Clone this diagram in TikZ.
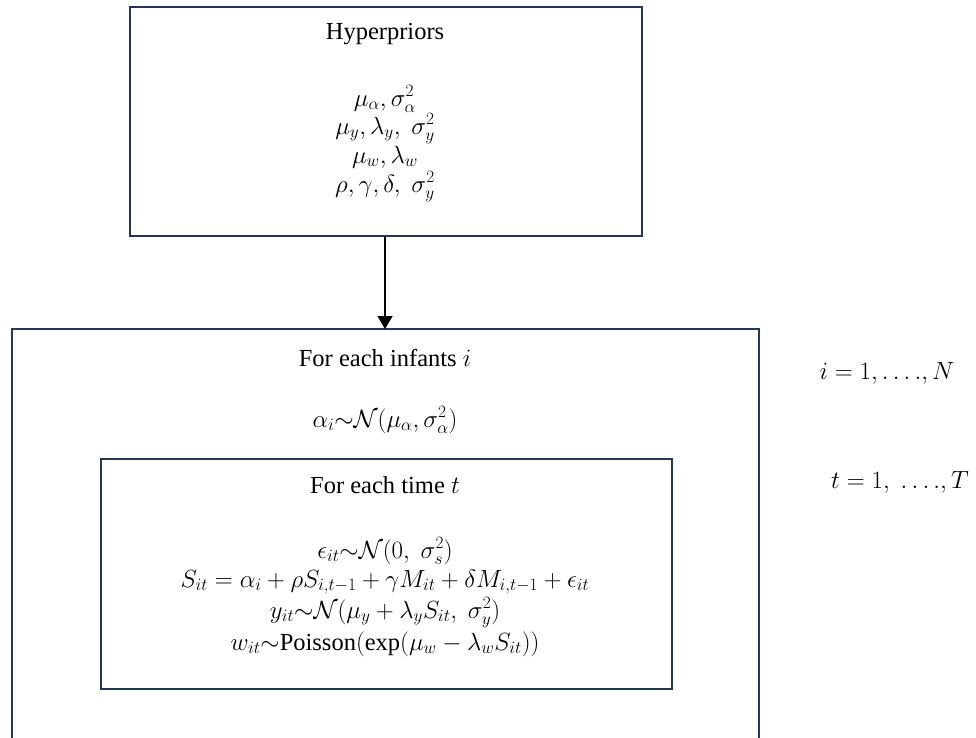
\documentclass[tikz,border=0pt]{standalone}
\usepackage{fontspec}
\setmainfont{Liberation Serif}
\usetikzlibrary{arrows.meta}
\definecolor{platecolor}{RGB}{34,56,86}
\newcommand{\txtsize}{\fontsize{24.5}{28}\selectfont}

\begin{document}
\begin{tikzpicture} [x = 1pt, y = -1pt, font = \txtsize,
    plate/.style = {draw = platecolor, line width = 2.3pt, inner sep = 0pt, anchor = north west},
    line/.style = {anchor = base, inner sep = 0pt},
    eqline/.style = {line, font = \fontsize{27}{30}\selectfont}]
      \useasboundingbox (0,0) rectangle (976,737);

      % 枠
      \node [plate, minimum width = 512, minimum height = 229] (hyper) at (129,6) {};
      \node [plate, minimum width = 571, minimum height = 230] (timebox) at (100,458) {};
      \draw [draw = platecolor, line width = 2.3pt](12,740) |- (759,329) coordinate (infright) -- (759,740);
      \coordinate (inftop) at (385,329);

      % 矢印
      \draw [line width = 1.3pt, -{Triangle[width = 15pt, length = 13pt]}](hyper.south -| inftop) -- (inftop);

      % ハイパー事前分布
      \node [line] (hyptitle) at (385,39) {Hyperpriors};
      \node [eqline] (hyp1) at (385,106) {$\mu_\alpha,\sigma_\alpha^2$};
      \node [eqline] (hyp2) at (385,134) {$\mu_y,\lambda_y,\ \sigma_y^2$};
      \node [eqline] (hyp3) at (385,163) {$\mu_w,\lambda_w$};
      \node [eqline] (hyp4) at (385,192) {$\rho,\gamma,\delta,\ \sigma_y^2$};

      % 個体ごと
      \node [line] (inftitle) at (385,366) {For each infants $i$};
      \node [eqline] (alpha) at (385,427) {$\alpha_i{\sim}\mathcal{N}(\mu_\alpha,\sigma_\alpha^2)$};

      % 時点ごと
      \node [line] (timetitle) at (385,493) {For each time $t$};
      \node [eqline] (eps) at (385,558) {$\epsilon_{it}{\sim}\mathcal{N}(0,\ \sigma_s^2)$};
      \node [eqline] (state) at (385,587) {$S_{it}=\alpha_i+\rho S_{i,t-1}+\gamma M_{it}+\delta M_{i,t-1}+\epsilon_{it}$};
      \node [eqline] (yobs) at (385,618) {$y_{it}{\sim}\mathcal{N}\bigl(\mu_y+\lambda_y S_{it},\ \sigma_y^2\bigr)$};
      \node [eqline] (wobs) at (385,650) {$w_{it}{\sim}$\txtsize Poisson$\bigl(\exp(\mu_w-\lambda_w S_{it})\bigr)$};

      % 添字の範囲
      \node [eqline] (irange) at (887,379) {$i=1,\ldots.,N$};
      \node [eqline] (trange) at (900,488) {$t=1,\ \ldots.,T$};
    \end{tikzpicture}
\end{document}
